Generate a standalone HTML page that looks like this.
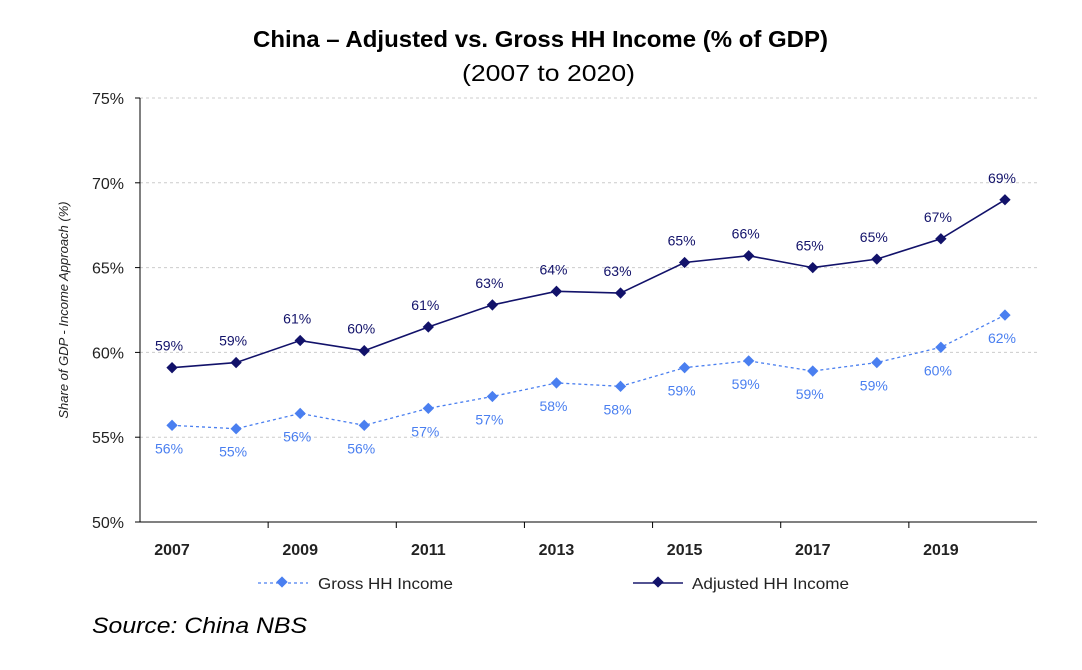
<!DOCTYPE html>
<html><head><meta charset="utf-8"><style>
body{margin:0;background:#fff;width:1082px;height:665px;overflow:hidden;font-family:"Liberation Sans",sans-serif}
</style></head><body>
<svg id="chart" width="1082" height="665" xmlns="http://www.w3.org/2000/svg">
<text x="253" y="47" textLength="575" lengthAdjust="spacingAndGlyphs" font-size="23" font-weight="bold" fill="#000">China – Adjusted vs. Gross HH Income (% of GDP)</text>
<text x="462" y="81" textLength="173" lengthAdjust="spacingAndGlyphs" font-size="23" fill="#000">(2007 to 2020)</text>
<text transform="translate(68,310) rotate(-90)" text-anchor="middle" font-size="13" font-style="italic" fill="#222">Share of GDP - Income Approach (%)</text>
<g id="grid"></g><g id="axes"></g><g id="series"></g>
<g>
<line x1="258" y1="583" x2="308" y2="583" stroke="#4a7ff0" stroke-width="1.3" stroke-dasharray="3,3"/>
<rect x="278" y="578" width="8" height="8" fill="#4a7ff0" transform="rotate(45 282 582)"/>
<text x="318" y="589" textLength="135" lengthAdjust="spacingAndGlyphs" font-size="16" fill="#222">Gross HH Income</text>
<line x1="633" y1="583" x2="683" y2="583" stroke="#1a1a6e" stroke-width="1.5"/>
<rect x="654" y="578" width="8" height="8" fill="#12126a" transform="rotate(45 658 582)"/>
<text x="692" y="589" textLength="157" lengthAdjust="spacingAndGlyphs" font-size="16" fill="#222">Adjusted HH Income</text>
</g>
<text x="92" y="633" textLength="215" lengthAdjust="spacingAndGlyphs" font-size="22" font-style="italic" fill="#000">Source: China NBS</text>
</svg>
<script>
const years=[2007,2008,2009,2010,2011,2012,2013,2014,2015,2016,2017,2018,2019,2020];
const adjusted=[59.1,59.4,60.7,60.1,61.5,62.8,63.6,63.5,65.3,65.7,65.0,65.5,66.7,69.0];
const gross=[55.7,55.5,56.4,55.7,56.7,57.4,58.2,58.0,59.1,59.5,58.9,59.4,60.3,62.2];
const adjustedLabels=["59%","59%","61%","60%","61%","63%","64%","63%","65%","66%","65%","65%","67%","69%"];
const grossLabels=["56%","55%","56%","56%","57%","57%","58%","58%","59%","59%","59%","59%","60%","62%"];
const yTicks=[50,55,60,65,70,75];
const NS="http://www.w3.org/2000/svg";
const x0=140,x1=1037,yb=522,yt=98;
const bw=(x1-x0)/years.length;
const X=i=>x0+bw*(i+0.5);
const Y=v=>yb-(v-50)/25*(yb-yt);
function mk(tag,attrs,parent){const e=document.createElementNS(NS,tag);for(const k in attrs)e.setAttribute(k,attrs[k]);parent.appendChild(e);return e;}
const grid=document.getElementById('grid'),axes=document.getElementById('axes'),ser=document.getElementById('series');
yTicks.forEach(t=>{
  if(t>50){const g=mk('line',{x1:x0,x2:x1,y1:Y(t),y2:Y(t),stroke:'#ccc','stroke-dasharray':'3,3'},grid);
  
  }
  const l=mk('text',{x:124,y:Y(t)+6,'text-anchor':'end','font-size':'16',fill:'#222'},axes);l.textContent=t+'%';
  
  
  mk('line',{x1:x0-5,x2:x0,y1:Y(t),y2:Y(t),stroke:'#000'},axes);
});
mk('line',{x1:x0,x2:x0,y1:yt,y2:yb,stroke:'#000'},axes);
mk('line',{x1:x0,x2:x1,y1:yb,y2:yb,stroke:'#000'},axes);
years.forEach((y,i)=>{
  if(i%2==0&&i>0)mk('line',{x1:x0+bw*i,x2:x0+bw*i,y1:yb,y2:yb+6,stroke:'#000'},axes);
  if(i%2==0){const l=mk('text',{x:X(i),y:555,'text-anchor':'middle','font-size':'16','font-weight':'bold',fill:'#222'},axes);l.textContent=y;
  
  }
});
function series(vals,labels,color,dash,dy,name){
  const p=mk('polyline',{points:vals.map((v,i)=>X(i)+','+Y(v)).join(' '),fill:'none',stroke:color,'stroke-width':dash?1.3:1.6},ser);
  if(dash)p.setAttribute('stroke-dasharray','3,3');
  
  
  vals.forEach((v,i)=>{
    const m=mk('rect',{x:X(i)-4,y:Y(v)-4,width:8,height:8,fill:color,transform:`rotate(45 ${X(i)} ${Y(v)})`},ser);
    
    
    const t=mk('text',{x:X(i)-3,y:Y(v)+dy,'text-anchor':'middle','font-size':'14',fill:color},ser);t.textContent=labels[i];
    
    
  });
}
series(gross,grossLabels,'#4a7ff0',true,28,'gross');
series(adjusted,adjustedLabels,'#12126a',false,-17,'adjusted');
</script>
</body></html>
